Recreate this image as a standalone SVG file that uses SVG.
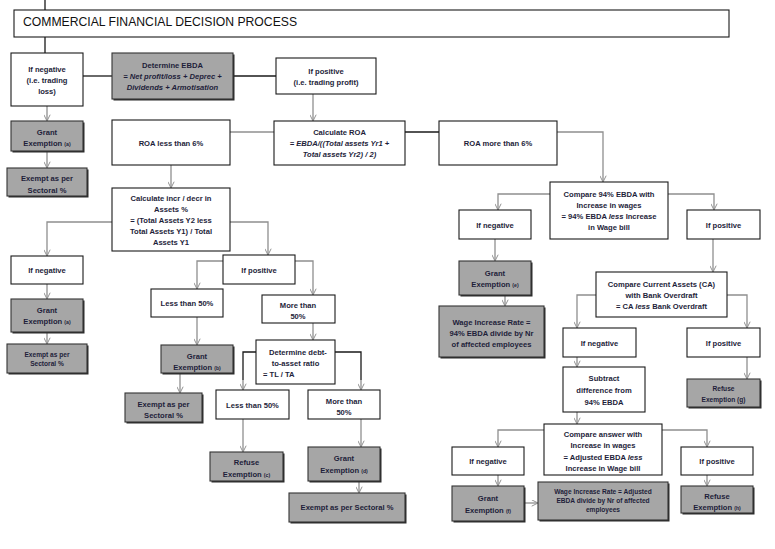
<svg xmlns="http://www.w3.org/2000/svg" width="775" height="549" viewBox="0 0 775 549">
<style>
.bg{fill:#ffffff}
.w{fill:#ffffff;stroke:#1a1a1a;stroke-width:1.1}
.g{fill:#a6a6a6;stroke:#333333;stroke-width:1.1}
.sh{fill:#2a2a2a}
.c{fill:none;stroke:#8f8f8f;stroke-width:1.3}
.cb{fill:none;stroke:#1a1a1a;stroke-width:1.3}
text{font-family:"Liberation Sans",Arial,sans-serif;font-weight:bold;font-size:7.6px;fill:#1e1e3a;text-anchor:middle}
.i{font-style:italic}
.s{font-size:6.6px}
.x{font-size:5.2px}
.title{font-size:12.2px;font-weight:normal;text-anchor:start;fill:#111}
</style>
<defs>
<marker id="a" viewBox="0 0 10 10" refX="10" refY="5" markerWidth="7" markerHeight="7" markerUnits="userSpaceOnUse" orient="auto">
<path d="M1,0.5 L10,5 L1,9.5" fill="none" stroke="#8f8f8f" stroke-width="1.4"/>
</marker>
</defs>
<rect class="bg" x="0" y="0" width="775" height="549"/>

<g id="connectors">
<path class="cb" d="M45,0 V10 M45,37 V53"/>
<path class="cb" d="M83,76 H112"/>
<path class="cb" d="M233,76 H276"/>
<path class="c" d="M313,94 V121" marker-end="url(#a)"/>
<path class="c" d="M47,106 V121" marker-end="url(#a)"/>
<path class="c" d="M47,151 V168" marker-end="url(#a)"/>
<path class="c" d="M230,132 H274"/>
<path class="cb" d="M405,132 H439"/>
<path class="c" d="M171,165 V188" marker-end="url(#a)"/>
<path class="c" d="M557,132 H603 V182" marker-end="url(#a)"/>
<path class="c" d="M550,194 H498 V210" marker-end="url(#a)"/>
<path class="c" d="M668,194 H714 V210" marker-end="url(#a)"/>
<path class="c" d="M495,239 V261" marker-end="url(#a)"/>
<path class="c" d="M505,295 V306" marker-end="url(#a)"/>
<path class="c" d="M713,239 V272" marker-end="url(#a)"/>
<path class="c" d="M596,295 H577 V328" marker-end="url(#a)"/>
<path class="c" d="M727,295 H747 V328" marker-end="url(#a)"/>
<path class="c" d="M577,357 V367" marker-end="url(#a)"/>
<path class="c" d="M747,357 V379" marker-end="url(#a)"/>
<path class="c" d="M577,412 V424" marker-end="url(#a)"/>
<path class="c" d="M544,430 H498 V447" marker-end="url(#a)"/>
<path class="c" d="M662,430 H707 V447" marker-end="url(#a)"/>
<path class="c" d="M498,475 V486" marker-end="url(#a)"/>
<path class="c" d="M707,475 V486" marker-end="url(#a)"/>
<path class="c" d="M524,503 H538" marker-end="url(#a)"/>
<path class="c" d="M112,222 H47 V256" marker-end="url(#a)"/>
<path class="c" d="M230,222 H268 V255" marker-end="url(#a)"/>
<path class="c" d="M47,284 V299" marker-end="url(#a)"/>
<path class="c" d="M47,332 V344" marker-end="url(#a)"/>
<path class="c" d="M223,261 H197 V289" marker-end="url(#a)"/>
<path class="c" d="M295,261 H313 V295" marker-end="url(#a)"/>
<path class="c" d="M197,317 V345" marker-end="url(#a)"/>
<path class="c" d="M180,373 V393" marker-end="url(#a)"/>
<path class="c" d="M313,323 V340" marker-end="url(#a)"/>
<path class="cb" d="M256,352 H243 V380"/>
<path class="c" d="M243,380 V390" marker-end="url(#a)"/>
<path class="cb" d="M335,352 H361 V380"/>
<path class="c" d="M361,380 V390" marker-end="url(#a)"/>
<path class="c" d="M243,419 V452" marker-end="url(#a)"/>
<path class="c" d="M361,419 V447" marker-end="url(#a)"/>
<path class="c" d="M359,481 V493" marker-end="url(#a)"/>
</g>

<g id="title"><rect class="w" x="14" y="10" width="715" height="27" stroke-width="1.4"/><text class="title" x="23" y="26">COMMERCIAL FINANCIAL DECISION PROCESS</text></g>

<g id="neg1"><rect class="w" x="11" y="53" width="72" height="53"/><text x="47" y="72">If negative</text><text x="47" y="83">(i.e. trading</text><text x="47" y="94">loss)</text></g>
<g id="ebda"><rect class="sh" x="113.5" y="54.5" width="121" height="46"/><rect class="g" x="112" y="53" width="121" height="46"/><text x="172.5" y="68">Determine EBDA</text><text class="i" x="172.5" y="79">= Net profit/loss + Deprec +</text><text class="i" x="172.5" y="90">Dividends + Armotisation</text></g>
<g id="pos1"><rect class="w" x="276" y="58" width="100" height="36"/><text x="326" y="74">If positive</text><text x="326" y="85">(i.e. trading profit)</text></g>
<g id="grantA1"><rect class="sh" x="12.5" y="122.5" width="72" height="30"/><rect class="g" x="11" y="121" width="72" height="30"/><text x="47" y="135">Grant</text><text x="47" y="146">Exemption <tspan class="x">(a)</tspan></text></g>
<g id="exemptA1"><rect class="sh" x="8.5" y="169.5" width="80" height="28"/><rect class="g" x="7" y="168" width="80" height="28"/><text x="47" y="181">Exempt as per</text><text x="47" y="193">Sectoral %</text></g>
<g id="roaLess"><rect class="w" x="112" y="120" width="118" height="45"/><text x="171" y="146">ROA less than 6%</text></g>
<g id="calcRoa"><rect class="w" x="274" y="121" width="131" height="44"/><text x="339.5" y="135">Calculate ROA</text><text class="i" x="339.5" y="146">= EBDA/((Total assets Yr1 +</text><text class="i" x="339.5" y="157">Total assets Yr2) / 2)</text></g>
<g id="roaMore"><rect class="w" x="439" y="121" width="118" height="44"/><text x="498" y="146">ROA more than 6%</text></g>
<g id="calcIncr"><rect class="w" x="112" y="188" width="118" height="63"/><text x="171" y="201">Calculate incr / decr in</text><text x="171" y="212">Assets %</text><text x="171" y="223">= (Total Assets Y2 less</text><text x="171" y="234">Total Assets Y1) / Total</text><text x="171" y="245">Assets Y1</text></g>
<g id="neg2"><rect class="w" x="11" y="256" width="72" height="28"/><text x="47" y="273">If negative</text></g>
<g id="pos2"><rect class="w" x="223" y="255" width="72" height="29"/><text x="259" y="273">If positive</text></g>
<g id="less50a"><rect class="w" x="151" y="289" width="72" height="28"/><text x="187" y="306">Less than 50%</text></g>
<g id="more50a"><rect class="w" x="262" y="295" width="73" height="28"/><text x="298" y="308">More than</text><text x="298" y="319">50%</text></g>
<g id="grantA2"><rect class="sh" x="12.5" y="300.5" width="72" height="33"/><rect class="g" x="11" y="299" width="72" height="33"/><text x="47" y="313">Grant</text><text x="47" y="324">Exemption <tspan class="x">(a)</tspan></text></g>
<g id="exemptA2"><rect class="sh" x="8.5" y="345.5" width="80" height="29"/><rect class="g" x="7" y="344" width="80" height="29"/><text class="s" x="47" y="357">Exempt as per</text><text class="s" x="47" y="366">Sectoral %</text></g>
<g id="grantB"><rect class="sh" x="162.5" y="346.5" width="72" height="28"/><rect class="g" x="161" y="345" width="72" height="28"/><text x="197" y="359">Grant</text><text x="197" y="370">Exemption <tspan class="x">(b)</tspan></text></g>
<g id="exemptB"><rect class="sh" x="126.5" y="394.5" width="77" height="29"/><rect class="g" x="125" y="393" width="77" height="29"/><text x="163.5" y="407">Exempt as per</text><text x="163.5" y="418">Sectoral %</text></g>
<g id="debt"><rect class="w" x="256" y="340" width="79" height="44"/><text x="298" y="355">Determine debt-</text><text x="295.5" y="366">to-asset ratio</text><text x="263" y="377" style="text-anchor:start">= TL / TA</text></g>
<g id="less50c"><rect class="w" x="216" y="390" width="73" height="29"/><text x="252.5" y="408">Less than 50%</text></g>
<g id="more50d"><rect class="w" x="308" y="390" width="72" height="29"/><text x="344" y="404">More than</text><text x="344" y="415">50%</text></g>
<g id="refuseC"><rect class="sh" x="211.5" y="453.5" width="73" height="29"/><rect class="g" x="210" y="452" width="73" height="29"/><text x="246.5" y="465">Refuse</text><text x="246.5" y="477">Exemption <tspan class="x">(c)</tspan></text></g>
<g id="grantD"><rect class="sh" x="309.5" y="448.5" width="72" height="34"/><rect class="g" x="308" y="447" width="72" height="34"/><text x="344" y="461">Grant</text><text x="344" y="473">Exemption <tspan class="x">(d)</tspan></text></g>
<g id="exemptD"><rect class="sh" x="290.5" y="494.5" width="116" height="29"/><rect class="g" x="289" y="493" width="116" height="29"/><text x="347" y="510">Exempt as per Sectoral %</text></g>
<g id="cmp94"><rect class="w" x="550" y="182" width="118" height="57"/><text x="609" y="197">Compare 94% EBDA with</text><text x="609" y="208">Increase in wages</text><text x="609" y="219">= 94% EBDA <tspan class="i">less</tspan> Increase</text><text x="609" y="230">in Wage bill</text></g>
<g id="neg3"><rect class="w" x="459" y="210" width="72" height="29"/><text x="495" y="228">If negative</text></g>
<g id="pos3"><rect class="w" x="687" y="210" width="73" height="29"/><text x="723.5" y="228">If positive</text></g>
<g id="grantE"><rect class="sh" x="460.5" y="262.5" width="72" height="34"/><rect class="g" x="459" y="261" width="72" height="34"/><text x="495" y="276">Grant</text><text x="495" y="287">Exemption <tspan class="x">(e)</tspan></text></g>
<g id="wageRate1"><rect class="sh" x="440.5" y="307.5" width="105" height="51"/><rect class="g" x="439" y="306" width="105" height="51"/><text x="491.5" y="325">Wage Increase Rate =</text><text x="491.5" y="336">94% EBDA divide by Nr</text><text x="491.5" y="347">of affected employees</text></g>
<g id="cmpCA"><rect class="w" x="596" y="272" width="131" height="45"/><text x="661.5" y="287">Compare Current Assets (CA)</text><text x="661.5" y="298">with Bank Overdraft</text><text x="661.5" y="309">= CA <tspan class="i">less</tspan> Bank Overdraft</text></g>
<g id="neg4"><rect class="w" x="563" y="328" width="73" height="29"/><text x="599.5" y="346">If negative</text></g>
<g id="pos4"><rect class="w" x="687" y="328" width="73" height="29"/><text x="723.5" y="346">If positive</text></g>
<g id="subtract"><rect class="w" x="563" y="367" width="82" height="45"/><text x="604" y="381">Subtract</text><text x="604" y="393">difference from</text><text x="604" y="405">94% EBDA</text></g>
<g id="refuseG"><rect class="sh" x="688.5" y="380.5" width="73" height="28"/><rect class="g" x="687" y="379" width="73" height="28"/><text class="s" x="723.5" y="391">Refuse</text><text class="s" x="723.5" y="402">Exemption (g)</text></g>
<g id="cmpAns"><rect class="w" x="544" y="424" width="118" height="51"/><text x="603" y="437">Compare answer with</text><text x="603" y="448">Increase in wages</text><text x="603" y="460">= Adjusted EBDA <tspan class="i">less</tspan></text><text x="603" y="471">Increase in Wage bill</text></g>
<g id="neg5"><rect class="w" x="452" y="447" width="72" height="28"/><text x="488" y="464">If negative</text></g>
<g id="pos5"><rect class="w" x="681" y="447" width="72" height="28"/><text x="717" y="464">If positive</text></g>
<g id="grantF"><rect class="sh" x="453.5" y="487.5" width="72" height="35"/><rect class="g" x="452" y="486" width="72" height="35"/><text x="488" y="501">Grant</text><text x="488" y="513">Exemption <tspan class="x">(f)</tspan></text></g>
<g id="wageRate2"><rect class="sh" x="539.5" y="483.5" width="130" height="38"/><rect class="g" x="538" y="482" width="130" height="38"/><text class="s" x="603" y="494">Wage Increase Rate = Adjusted</text><text class="s" x="603" y="503">EBDA divide by Nr of affected</text><text class="s" x="603" y="512">employees</text></g>
<g id="refuseH"><rect class="sh" x="682.5" y="487.5" width="72" height="27"/><rect class="g" x="681" y="486" width="72" height="27"/><text x="717" y="499">Refuse</text><text x="717" y="510">Exemption <tspan class="x">(h)</tspan></text></g>
</svg>
